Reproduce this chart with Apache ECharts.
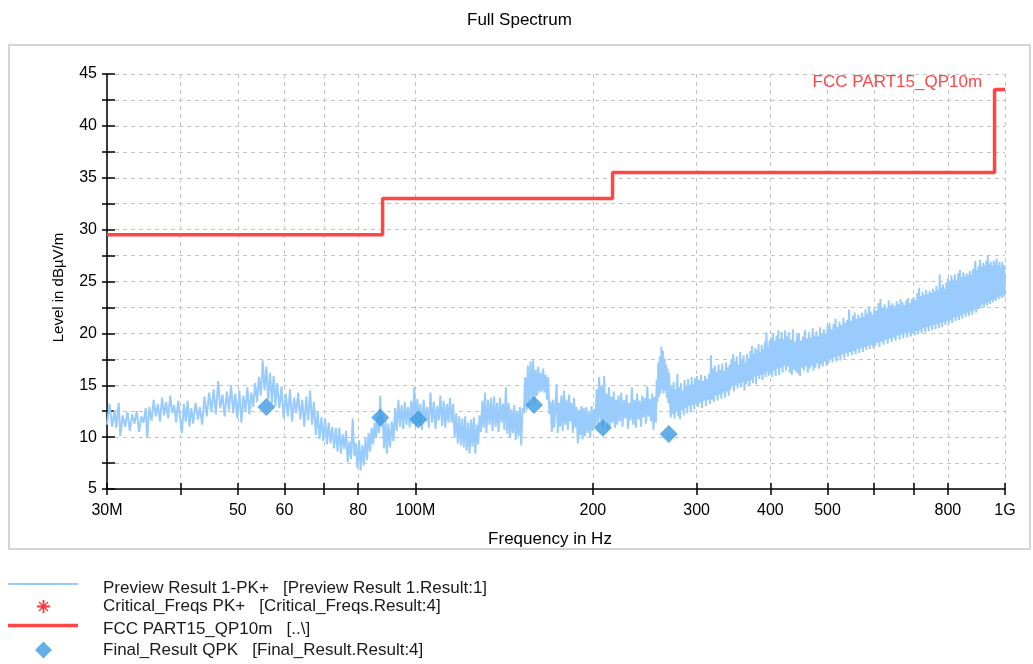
<!DOCTYPE html>
<html>
<head>
<meta charset="utf-8">
<script src="https://cdn.jsdelivr.net/npm/echarts@6/dist/echarts.min.js"></script>
<style>
html,body{margin:0;padding:0;background:#fff;}
#chart{width:1033px;height:664px;}
</style>
</head>
<body>
<div id="chart"></div>
<script>
// ---------- data (frequency in MHz, level in dBµV/m) ----------
const previewTrace = [
[30.0,11.2],[30.3,13.2],[30.6,11.0],[30.9,12.6],[31.1,10.9],[31.4,13.3],[31.6,10.1],[31.9,12.1],[32.2,11.0],[32.5,12.4],
[32.8,10.6],[33.1,12.2],[33.4,11.3],[33.7,12.5],[34.0,10.5],[34.3,12.0],[34.6,11.4],[34.9,12.8],[35.1,9.9],[35.4,12.9],
[35.7,11.6],[36.0,13.6],[36.3,12.0],[36.6,13.2],[36.9,11.5],[37.2,13.8],[37.5,12.1],[37.8,13.4],[38.1,11.8],[38.4,14.0],
[38.7,12.3],[39.0,13.1],[39.3,11.4],[39.6,13.5],[39.9,11.9],
[40.2,10.4],[40.5,13.2],[40.8,11.5],[41.1,13.5],[41.4,11.0],[41.7,12.8],[42.0,11.3],[42.4,13.3],[42.8,11.7],[43.1,12.9],[43.5,11.2],
[43.9,13.9],[44.3,12.0],[44.7,14.3],[45.1,12.4],[45.5,14.6],[45.9,12.2],[46.3,15.4],[46.7,12.8],[47.1,14.1],[47.5,12.0],
[47.9,14.4],[48.3,12.6],[48.7,15.0],[49.1,12.3],[49.5,14.2],[49.9,11.8],
[50.3,14.5],[50.7,11.4],[51.1,14.0],[51.5,12.5],[51.9,14.8],[52.3,12.2],[52.7,14.3],[53.1,12.9],[53.5,15.2],
[53.9,13.4],[54.3,15.8],[54.7,14.0],[55.1,17.4],[55.5,14.5],[55.9,16.8],[56.3,13.6],[56.7,16.2],[57.1,13.3],[57.5,15.9],
[57.9,13.0],[58.3,15.2],[58.8,12.8],[59.3,14.9],
[59.8,11.8],[60.3,14.2],[60.8,12.0],[61.3,14.6],[61.8,11.5],[62.3,13.8],[62.8,12.3],[63.3,14.3],[63.8,11.7],[64.3,13.6],
[64.8,11.0],[65.3,13.9],[65.8,11.6],[66.3,14.5],[66.8,11.2],[67.3,13.4],
[67.8,10.2],[68.3,12.5],[68.8,9.8],[69.3,11.9],[69.8,9.6],[70.3,11.8],[70.8,9.3],[71.3,11.4],[71.8,9.4],[72.3,11.0],[72.8,8.9],[73.3,10.9],
[73.8,8.6],[74.3,10.9],[74.8,8.4],[75.3,10.3],[75.8,8.9],[76.3,10.6],
[76.8,7.6],[77.3,9.6],[77.8,7.9],[78.3,11.8],[78.8,8.2],[79.3,9.4],[79.8,7.0],[80.3,9.7],[80.8,6.8],[81.3,9.2],[81.8,7.3],[82.3,9.9],[82.8,7.8],
[83.3,10.4],[83.8,8.6],[84.3,10.9],[84.8,9.3],[85.3,11.4],[85.8,9.9],[86.3,12.0],[86.8,10.4],[87.2,14.0],[87.6,11.0],
[88.0,12.2],[88.5,8.9],[89.0,11.7],[89.5,8.4],[90.0,11.3],[90.6,9.0],[91.2,11.5],[91.8,9.6],
[92.4,12.8],[93.0,10.6],[93.6,13.6],[94.2,11.0],[94.8,13.1],[95.4,10.8],[96.0,13.4],[96.6,11.2],[97.2,12.9],[97.8,10.9],
[98.4,13.5],[99.0,11.3],[99.6,14.8],[100.2,11.0],
[100.8,13.7],[101.4,11.2],[102.0,13.2],[102.6,10.7],[103.3,13.6],[104.0,11.5],[104.7,12.9],[105.4,10.9],[106.1,14.3],[106.8,11.4],
[107.5,13.4],[108.2,10.8],[108.9,13.0],[109.6,11.6],[110.3,14.0],[111.0,11.1],[111.7,13.5],[112.4,10.9],[113.1,13.2],[113.8,11.4],
[114.5,13.8],[115.2,11.4],[115.9,13.2],[116.6,10.0],[117.3,12.3],[118.0,9.4],[118.7,12.0],
[119.4,9.2],[120.1,11.8],[120.8,9.0],[121.5,12.0],[122.2,8.7],[122.9,11.4],[123.6,8.4],[124.3,11.7],[125.0,9.1],[125.7,11.9],
[126.4,8.4],[127.1,11.2],[127.8,9.3],[128.5,12.1],
[129.2,10.5],[129.9,13.5],[130.6,10.9],[131.3,14.3],[132.0,10.4],[132.8,13.6],[133.6,11.2],[134.4,13.8],[135.2,10.6],[136.0,13.9],
[136.8,11.0],[137.6,13.3],[138.4,10.5],[139.2,13.8],[140.0,11.4],[140.8,13.2],[141.6,10.7],[142.4,14.8],
[143.2,10.3],[144.0,13.3],[144.8,9.9],[145.6,12.7],[146.4,10.4],[147.2,13.1],[148.0,9.7],[148.8,12.5],[149.6,10.1],[150.4,12.9],[151.2,9.2],[152.0,12.8],
[152.8,12.3],[153.6,15.8],[154.4,12.6],[155.2,16.9],[156.0,13.0],[156.8,17.3],[157.6,13.5],[158.4,17.4],[159.2,13.2],[160.0,16.5],
[160.8,14.0],[161.6,16.8],[162.4,14.3],[163.2,16.2],[164.0,14.4],[164.8,16.6],[165.6,14.3],[166.4,16.0],[167.2,13.6],[168.0,15.8],[168.8,12.2],
[169.6,13.4],[170.4,10.5],[171.2,13.6],[172.0,10.9],[172.8,13.0],[173.6,15.1],[174.4,10.4],[175.2,13.3],[176.0,11.0],
[176.9,14.0],[177.8,10.6],[178.7,14.5],[179.6,11.2],[180.5,13.6],[181.4,10.7],[182.3,14.1],[183.2,11.5],[184.1,13.3],[185.0,10.4],
[185.9,13.8],[186.8,10.9],[187.7,12.9],[188.6,9.4],[189.5,12.6],[190.4,10.2],[191.3,13.0],[192.2,9.8],
[193.1,12.8],[194.0,10.1],[195.0,12.9],[196.0,10.4],[197.0,12.4],[198.0,10.0],[199.0,13.0],[200.0,10.6],[201.0,12.7],
[202.0,11.0],[203.0,14.6],[204.0,11.3],[205.0,15.8],[206.0,11.6],[207.0,15.0],[208.0,10.9],[209.0,15.9],[210.0,11.5],[211.0,14.2],
[212.0,10.7],[213.0,14.8],[214.0,11.1],[215.0,13.9],[216.0,11.4],[217.0,14.4],[218.0,10.9],[219.0,13.6],[220.0,11.2],[221.0,14.0],
[222.2,11.5],[223.4,14.3],[224.6,11.0],[225.8,13.6],[227.0,11.8],[228.2,14.1],[229.4,10.8],[230.6,13.3],[231.8,11.6],[233.0,14.8],
[234.2,11.2],[235.4,13.6],[236.6,10.9],[237.8,14.2],[239.0,11.7],[240.2,13.5],[241.4,11.0],[242.6,14.0],[243.8,11.9],[245.0,13.8],
[246.2,11.3],[247.4,14.9],[248.6,12.0],[249.8,13.7],[251.0,11.5],[252.2,14.2],[253.4,10.7],[254.6,13.9],[255.8,11.4],
[256.6,15.5],[257.4,13.4],[258.2,17.2],[259.0,13.9],[259.8,17.8],[260.6,14.2],[261.4,18.7],[262.2,14.6],[263.0,18.3],[263.8,14.2],
[264.6,17.6],[265.4,14.5],[266.2,17.0],[267.0,13.8],[267.8,16.6],[268.6,13.3],[269.4,16.2],[270.2,13.5],
[271.2,11.9],[272.2,15.0],[273.2,12.2],[274.2,15.3],[275.2,11.8],[276.2,14.6],[277.2,12.5],[278.2,16.1],[279.2,12.0],[280.2,14.8],
[281.2,11.7],[282.2,15.2],[283.2,12.6],[284.2,14.5],[285.2,12.1],[286.2,15.5],[287.2,12.8],[288.2,14.9],[289.2,12.3],[290.2,15.6],
[291.2,13.0],[292.2,15.0],[293.2,12.4],[294.2,15.8],[295.2,13.1],[296.2,15.1],[297.2,12.7],[298.2,15.7],[299.2,13.2],
[300.4,15.9],[301.6,12.9],[302.8,15.5],[304.0,13.3],[305.2,16.0],[306.4,12.8],[307.6,15.4],[308.8,13.5],[310.0,15.9],[311.2,13.0],
[312.4,15.6],[313.6,13.6],[314.8,16.1],[316.0,13.2],
[317.2,17.9],[318.4,13.6],[319.6,16.6],[320.8,13.4],[322.0,16.9],[323.2,14.0],[324.4,16.3],[325.6,13.5],[326.8,17.0],[328.0,14.1],
[329.2,16.5],[330.4,13.7],[331.6,17.1],[332.8,14.3],[334.0,16.4],[335.2,13.8],[336.4,17.2],[337.6,14.4],[338.8,16.7],[340.0,14.0],[341.2,17.0],
[342.4,14.6],[343.6,17.5],[344.8,14.9],[346.0,18.0],[347.2,14.4],[348.4,17.3],[349.6,15.0],[350.8,17.8],[352.0,14.7],[353.2,17.0],
[354.4,15.2],[355.6,18.2],[356.8,14.8],[358.0,17.4],[359.2,15.3],[360.4,17.9],[361.6,14.5],[362.8,17.2],[364.0,15.1],[365.2,18.0],
[366.4,15.4],[367.6,17.6],
[368.8,15.0],[370.0,18.3],[371.2,15.5],[372.4,18.8],[373.6,15.2],[374.8,18.0],[376.0,15.8],[377.2,18.6],[378.4,15.1],[379.6,18.4],
[380.8,15.9],[382.0,19.0],[383.2,15.6],[384.4,18.2],[385.6,16.0],[386.8,18.9],[388.0,15.5],[389.2,18.5],[390.4,16.1],[391.6,19.2],
[392.8,15.8],[394.0,20.1],[395.2,16.3],[396.4,18.7],[397.6,15.9],[398.8,19.3],
[400.0,16.2],[401.4,19.6],[402.8,15.8],[404.2,20.0],[405.6,16.4],[407.0,19.3],[408.4,15.9],[409.8,19.8],[411.2,16.6],[412.6,20.3],
[414.0,16.0],[415.4,19.5],[416.8,16.7],[418.2,20.1],[419.6,16.2],[421.0,19.4],[422.4,16.9],[423.8,20.3],[425.2,16.4],[426.6,19.7],[428.0,16.8],
[429.8,20.1],[431.5,16.2],[433.3,19.4],[435.0,16.0],[436.8,20.4],[438.5,16.5],[440.3,19.2],[442.0,16.3],[443.8,19.9],[445.5,16.1],
[447.3,20.0],[449.0,15.9],[450.8,19.3],[452.5,16.7],[454.3,19.7],[456.0,16.4],[457.8,20.3],[459.5,16.8],[461.3,19.5],[463.0,16.2],
[464.8,20.1],[466.5,16.6],[468.3,19.6],[470.0,16.9],[471.8,20.5],[473.5,16.4],[475.3,19.8],[477.0,16.7],[478.8,20.2],[480.5,17.1],
[482.3,19.7],[484.0,16.6],[485.8,20.6],[487.5,17.0],[489.3,19.9],[491.0,16.8],[492.8,20.4],[494.5,17.3],[496.3,20.0],[498.0,16.9],
[500,20.7],[502,17.1],[504,21.0],[506,17.5],[508,20.4],[510,17.2],[512,20.9],[514,17.7],[516,21.4],[518,17.3],
[520,20.6],[522,17.8],[524,21.1],[526,17.4],[528,20.8],[530,18.0],[532,21.5],[534,17.6],[536,21.0],[538,18.1],
[540,21.3],[542,17.8],[544,22.3],[546,18.2],[548,21.2],[550,17.9],[552,21.7],[554,18.3],[556,22.0],[558,18.0],
[560,21.4],[562,18.5],[564,21.8],[566,18.1],[568,21.5],[570,18.6],[572,22.0],[574,18.2],[576,21.6],[578,18.7],
[580,22.3],[582,18.4],[584,21.9],[586,18.8],[588,22.6],[590,18.5],[592,22.1],[594,18.9],[596,21.8],[598,18.6],
[600,22.4],[602.5,18.8],[605,22.2],[607.5,19.1],[610,22.9],[612.5,18.7],[615,23.3],[617.5,19.2],[620,22.5],[622.5,18.9],
[625,22.8],[627.5,19.4],[630,22.4],[632.5,19.0],[635,23.2],[637.5,19.5],[640,22.7],[642.5,19.2],[645,22.9],[647.5,19.6],
[650,22.6],[652.5,19.3],[655,23.1],[657.5,19.8],[660,22.8],[662.5,19.4],[665,23.3],[667.5,19.9],[670,23.0],[672.5,19.5],
[675,22.7],[677.5,20.0],[680,23.2],[682.5,19.6],[685,23.4],[687.5,20.1],[690,22.9],[692.5,19.7],[695,23.3],[697.5,20.0],
[700,23.5],[702.5,19.8],[705,23.2],[707.5,20.2],[710,23.9],[712.5,19.9],[715,24.4],[717.5,20.3],[720,23.6],[722.5,20.0],
[725,24.0],[727.5,20.5],[730,23.7],[732.5,20.1],[735,24.2],[737.5,20.6],[740,23.8],[742.5,20.2],[745,24.1],[747.5,20.7],
[750,23.9],[752.5,20.3],[755,24.3],[757.5,20.8],[760,24.0],[762.5,20.4],[765,24.6],[767.5,20.9],[770,24.2],[772.5,20.5],
[775,25.7],[777.5,21.0],[780,24.4],[782.5,20.6],[785,24.7],[787.5,21.1],[790,24.3],[792.5,20.8],[795,24.9],[797.5,21.2],
[800,25.3],[802.8,20.9],[805.5,25.0],[808.3,21.3],[811,25.6],[813.8,21.0],[816.5,25.2],[819.3,21.5],[822,25.7],[824.8,21.2],
[827.5,25.1],[830.3,21.6],[833,25.8],[835.8,21.3],[838.5,26.1],[841.3,21.7],[844,25.4],[846.8,21.4],[849.5,25.9],[852.3,21.9],
[855,25.5],[857.8,21.6],[860.5,25.8],[863.3,22.0],[866,25.6],[868.8,21.7],[871.5,26.0],[874.3,22.1],[877,25.7],[879.8,21.8],
[882.5,26.2],[885.3,22.2],[888,25.9],[890.8,27.0],[893.5,22.0],[896.3,26.1],[899,22.3],
[901.8,26.5],[904.5,22.4],[907.3,27.1],[910,22.6],[912.8,26.4],[915.5,22.8],[918.3,26.8],[921,22.5],[923.8,26.6],[926.5,22.9],
[929.3,27.0],[932,22.7],[934.8,27.5],[937.5,23.0],[940.3,26.7],[943,22.8],[945.8,26.9],[948.5,23.2],[951.3,26.5],[954,23.0],
[956.8,27.0],[959.5,23.3],[962.3,26.8],[965,23.1],[967.8,27.2],[970.5,23.5],[973.3,26.6],[976,23.3],[978.8,26.9],[981.5,23.6],
[984.3,26.4],[987,23.4],[989.8,26.9],[992.5,23.7],[995.3,26.6],[998,23.5],[1000,25.8]
];
const limitLine = [[30,29.5],[88,29.5],[88,33.0],[216,33.0],[216,35.5],[960,35.5],[960,43.5],[1000,43.5]];
const finalResults = [[55.9,12.9],[87.2,11.9],[101.2,11.7],[159.0,13.1],[208.0,10.9],[269.0,10.3]];
const criticalFreqs = [];
const xTickValues = [30,40,50,60,70,80,100,200,300,400,500,600,700,800,1000];
const xLabelValues = [30,50,60,80,100,200,300,400,500,800,1000];
const xLabelTexts = ['30M','50','60','80','100M','200','300','400','500','800','1G'];
const yLabelValues = [5,10,15,20,25,30,35,40,45];

const NAMES = {
  preview: 'Preview Result 1-PK+   [Preview Result 1.Result:1]',
  critical: 'Critical_Freqs PK+   [Critical_Freqs.Result:4]',
  limit: 'FCC PART15_QP10m   [..\\]',
  final: 'Final_Result QPK   [Final_Result.Result:4]'
};
const FONT = '"Liberation Sans", Arial, sans-serif';
const ASTERISK = 'path://M4.3,0L5.7,0L5.7,10L4.3,10ZM0,4.3L10,4.3L10,5.7L0,5.7ZM1.9,1.2L8.8,8.1L8.1,8.8L1.2,1.9ZM8.1,1.2L8.8,1.9L1.9,8.8L1.2,8.1Z';
// legend line swatches: a bar in the upper part of a 70x14 box (corner dots fix the box)
const BLUE_SWATCH = 'path://M0,2H70V4H0ZM0,0H0.01V0.01H0ZM69.99,13.99H70V14H69.99Z';
const RED_SWATCH = 'path://M0,1.75H70V5.25H0ZM0,0H0.01V0.01H0ZM69.99,13.99H70V14H69.99Z';
const BLUE = '#99CBFC', RED = '#FF4646', DIAMOND = '#3D9BE0';

const chart = echarts.init(document.getElementById('chart'), null, {renderer: 'canvas'});
const gridDash = {show: true, lineStyle: {color: '#c4c4c4', type: [4, 4], width: 1}};
const legendText = (pad) => ({fontFamily: FONT, fontSize: 17, color: '#1a1a1a', padding: [0, 0, 0, pad]});

chart.setOption({
  animation: false,
  backgroundColor: '#ffffff',
  textStyle: {fontFamily: FONT},
  title: {
    text: 'Full Spectrum', left: 462, top: 7,
    textStyle: {fontFamily: FONT, fontSize: 17, fontWeight: 'normal', color: '#000'}
  },
  graphic: [{
    type: 'rect', z: -10, silent: true,
    shape: {x: 9, y: 45, width: 1021, height: 504},
    style: {fill: 'none', stroke: '#c8c8c8', lineWidth: 1.5}
  }],
  grid: {left: 107, right: 28, top: 74, bottom: 175, containLabel: false, outerBoundsMode: 'none'},
  xAxis: [{
    type: 'log', logBase: 10, min: 30, max: 1000, position: 'bottom',
    name: 'Frequency in Hz', nameLocation: 'middle', nameGap: 42,
    nameTextStyle: {fontFamily: FONT, fontSize: 17, color: '#000', padding: [0, 12, 0, 0]},
    axisLine: {show: true, lineStyle: {color: '#000', width: 1.5}},
    axisTick: {show: true, length: 6, lineStyle: {color: '#000', width: 1.5}, customValues: xTickValues},
    axisLabel: {
      show: true, margin: 14, fontFamily: FONT, fontSize: 16, color: '#000', customValues: xLabelValues,
      formatter: (v) => { const i = xLabelValues.findIndex(x => Math.abs(x - v) < 1e-6 * x); return i >= 0 ? xLabelTexts[i] : ''; }
    },
    splitLine: Object.assign({customValues: xTickValues}, gridDash),
    minorTick: {show: false}, minorSplitLine: {show: false}
  }, {
    type: 'log', logBase: 10, min: 30, max: 1000, position: 'bottom',
    axisLine: {show: false},
    axisTick: {show: true, inside: true, length: 6, lineStyle: {color: '#000', width: 1.5}, customValues: xTickValues},
    axisLabel: {show: false}, splitLine: {show: false}
  }],
  yAxis: [{
    type: 'value', min: 5, max: 45, interval: 2.5, position: 'left',
    name: 'Level in dBµV/m', nameLocation: 'middle', nameGap: 41, nameRotate: 90,
    nameTextStyle: {fontFamily: FONT, fontSize: 15, color: '#000', padding: [0, 12, 0, 0]},
    axisLine: {show: true, lineStyle: {color: '#000', width: 1.5}},
    axisTick: {show: true, length: 5, lineStyle: {color: '#000', width: 1.5}},
    axisLabel: {
      show: true, margin: 10, fontFamily: FONT, fontSize: 16, color: '#000',
      formatter: (v) => yLabelValues.indexOf(v) >= 0 ? String(v) : ''
    },
    splitLine: gridDash
  }, {
    type: 'value', min: 5, max: 45, interval: 2.5, position: 'left',
    axisLine: {show: false},
    axisTick: {show: true, inside: true, length: 8, lineStyle: {color: '#000', width: 1.5}},
    axisLabel: {show: false}, splitLine: {show: false}
  }],
  legend: [
    {data: [{name: NAMES.preview, icon: BLUE_SWATCH}], left: 8, top: 579.5, orient: 'vertical', padding: 0, itemWidth: 70, itemHeight: 14,
      symbolKeepAspect: false, textStyle: legendText(20), selectedMode: false},
    {data: [{name: NAMES.critical, icon: ASTERISK}], left: 37, top: 598, orient: 'vertical', padding: 0, itemWidth: 13, itemHeight: 13,
      textStyle: legendText(48), selectedMode: false},
    {data: [{name: NAMES.limit, icon: RED_SWATCH}], left: 8, top: 620.5, orient: 'vertical', padding: 0, itemWidth: 70, itemHeight: 14,
      symbolKeepAspect: false, textStyle: legendText(20), selectedMode: false},
    {data: [{name: NAMES.final, icon: 'diamond'}], left: 35, top: 641.5, orient: 'vertical', padding: 0, itemWidth: 17, itemHeight: 17,
      textStyle: legendText(46), selectedMode: false}
  ],
  series: [{
    name: NAMES.preview, type: 'line', data: previewTrace, xAxisIndex: 0, yAxisIndex: 0,
    symbol: 'none', showSymbol: false, sampling: null, z: 2,
    lineStyle: {color: BLUE, width: 2}, itemStyle: {color: BLUE}
  }, {
    name: NAMES.critical, type: 'scatter', data: criticalFreqs, symbol: ASTERISK, symbolSize: 12,
    itemStyle: {color: '#FF0000'}
  }, {
    name: NAMES.limit, type: 'line', data: limitLine, symbol: 'none', showSymbol: false, z: 3,
    lineStyle: {color: RED, width: 3.5}, itemStyle: {color: RED},
    markPoint: {
      silent: true, symbol: 'rect', symbolSize: 1, itemStyle: {color: 'rgba(0,0,0,0)'},
      data: [{coord: [960, 43.5], label: {show: true, position: 'left', distance: 12, offset: [0, -7],
        formatter: 'FCC PART15_QP10m', color: RED, fontFamily: FONT, fontSize: 17}}]
    }
  }, {
    name: NAMES.final, type: 'scatter', data: finalResults, symbol: 'diamond', symbolSize: 18, z: 4,
    itemStyle: {color: DIAMOND}
  }]
});
</script>
</body>
</html>
